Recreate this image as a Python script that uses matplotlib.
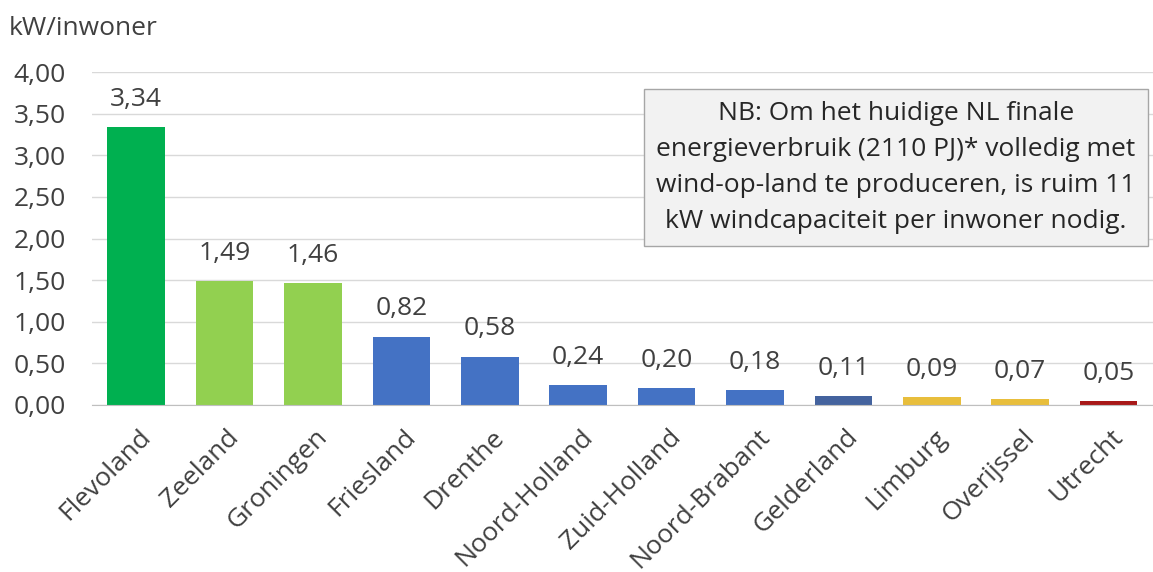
import matplotlib
matplotlib.use("Agg")
import matplotlib.pyplot as plt
import matplotlib.transforms as mtransforms
from matplotlib.ticker import FuncFormatter, MultipleLocator

# opgestelde windcapaciteit per inwoner, per provincie
provincies = ["Flevoland", "Zeeland", "Groningen", "Friesland", "Drenthe",
              "Noord-Holland", "Zuid-Holland", "Noord-Brabant", "Gelderland",
              "Limburg", "Overijssel", "Utrecht"]
kw_per_inwoner = [3.34, 1.49, 1.46, 0.82, 0.58, 0.24, 0.20, 0.18, 0.11,
                  0.09, 0.07, 0.05]
kleuren = ["#00B050", "#92D050", "#92D050", "#4472C4", "#4472C4", "#4472C4",
           "#4472C4", "#4472C4", "#44639E", "#E8BE3C", "#E8BE3C", "#A81818"]

noot = ("NB: Om het huidige NL finale\n"
        "energieverbruik (2110 PJ)* volledig met\n"
        "wind-op-land te produceren, is ruim 11\n"
        "kW windcapaciteit per inwoner nodig.")

plt.rcParams["font.family"] = ["Open Sans", "DejaVu Sans"]
tekst = "#404040"
fs = 19

fig = plt.figure(figsize=(11.53, 5.72), dpi=100)
ax = fig.add_axes([0.0798, 0.2920, 0.920, 0.5820])

x = range(len(provincies))
bars = ax.bar(x, kw_per_inwoner, width=0.65, color=kleuren, zorder=2)

komma = lambda v: f"{v:.2f}".replace(".", ",")
for b, v in zip(bars, kw_per_inwoner):
    ax.annotate(komma(v), (b.get_x() + b.get_width() / 2, v),
                xytext=(0, 11), textcoords="offset points",
                ha="center", va="bottom", fontsize=fs, color=tekst)

ax.set_xlim(-0.5, len(provincies) - 0.5)
ax.set_ylim(0, 4)
ax.yaxis.set_major_locator(MultipleLocator(0.5))
ax.yaxis.set_major_formatter(FuncFormatter(lambda v, p: komma(v)))
ax.grid(axis="y", color="#D9D9D9", lw=1, zorder=0)
ax.set_xticks(list(x))
ax.set_xticklabels(provincies, rotation=45, ha="right",
                   rotation_mode="anchor", fontsize=fs, color=tekst)
ax.tick_params(axis="both", length=0, labelsize=fs, labelcolor=tekst)
ax.tick_params(axis="x", pad=14)
ax.tick_params(axis="y", pad=19)
# schuin gezette labels iets naar rechts zodat ze onder de staaf eindigen
shift = mtransforms.ScaledTranslation(0.02, 0, fig.dpi_scale_trans)
for lbl in ax.get_xticklabels():
    lbl.set_transform(lbl.get_transform() + shift)
for s in ["top", "right", "left"]:
    ax.spines[s].set_visible(False)
ax.spines["bottom"].set_color("#BFBFBF")

fig.text(0.008, 0.950, "kW/inwoner", fontsize=fs, color=tekst,
         ha="left", va="center")

fig.text(0.777, 0.707, noot, fontsize=fs, color="#262626",
         ha="center", va="center", linespacing=1.58,
         bbox=dict(boxstyle="square,pad=0.45", fc="#F2F2F2", ec="#A6A6A6", lw=1))

fig.savefig("out.png", dpi=100)
